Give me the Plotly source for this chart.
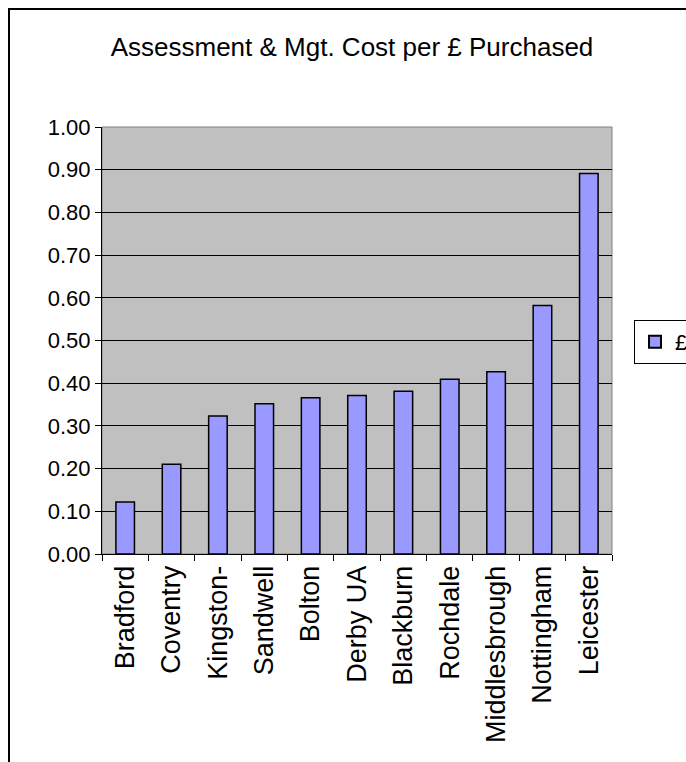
import plotly.graph_objects as go

categories = ["Bradford", "Coventry", "Kingston-", "Sandwell", "Bolton", "Derby UA",
              "Blackburn", "Rochdale", "Middlesbrough", "Nottingham", "Leicester"]
values = [0.122, 0.21, 0.323, 0.352, 0.366, 0.371, 0.381, 0.409, 0.427, 0.582, 0.891]
series_name = "£"
title_text = "Assessment & Mgt. Cost per £ Purchased"

FONT = "Liberation Sans, Arial, sans-serif"

fig = go.Figure()
fig.add_trace(go.Bar(
    x=categories, y=values, name=series_name, width=0.4,
    marker=dict(color="#9999FF", line=dict(color="black", width=1.5)),
    showlegend=True,
))

# plot area pixels: x 102..612, y 127..554
L, R, T, B = 102, 612, 127, 554
W, H = R - L, B - T
def px(x):
    return (x - L) / W
def py(y):
    return (B - y) / H

fig.update_layout(
    width=686, height=762,
    margin=dict(l=L, r=686 - R, t=T, b=762 - B, pad=0, autoexpand=False),
    paper_bgcolor="white", plot_bgcolor="#C0C0C0",
    font=dict(family=FONT, size=21, color="black"),
    title=dict(text=title_text, x=352 / 686, xanchor="center",
               y=1 - 47 / 762, yanchor="middle",
               font=dict(family=FONT, size=26, color="black")),
    showlegend=True,
    legend=dict(x=px(634), y=py(342), xanchor="left", yanchor="middle",
                bordercolor="black", borderwidth=1, bgcolor="white",
                font=dict(family=FONT, size=22), itemsizing="constant",
                itemwidth=30, tracegroupgap=0),
    xaxis=dict(type="category", tickson="boundaries", ticks="outside", ticklen=6,
               tickcolor="black", showline=True, linecolor="black", linewidth=1,
               showgrid=False, tickangle=-90, tickfont=dict(family=FONT, size=27),
               range=[-0.5, 10.5]),
    yaxis=dict(range=[0, 1.0], dtick=0.1, tickformat=".2f", ticks="outside",
               ticklen=6, tickcolor="black", showline=True, linecolor="black",
               linewidth=1, showgrid=True, gridcolor="black", gridwidth=1,
               tickfont=dict(family=FONT, size=22), zeroline=False),
    shapes=[
        dict(type="rect", xref="paper", yref="paper", x0=0, y0=0, x1=1, y1=1,
             line=dict(color="#808080", width=1), layer="below"),
        dict(type="rect", xref="paper", yref="paper",
             x0=px(9), y0=py(800), x1=px(720), y1=py(9),
             line=dict(color="black", width=2)),
    ],
)

fig.write_html("out.html")
